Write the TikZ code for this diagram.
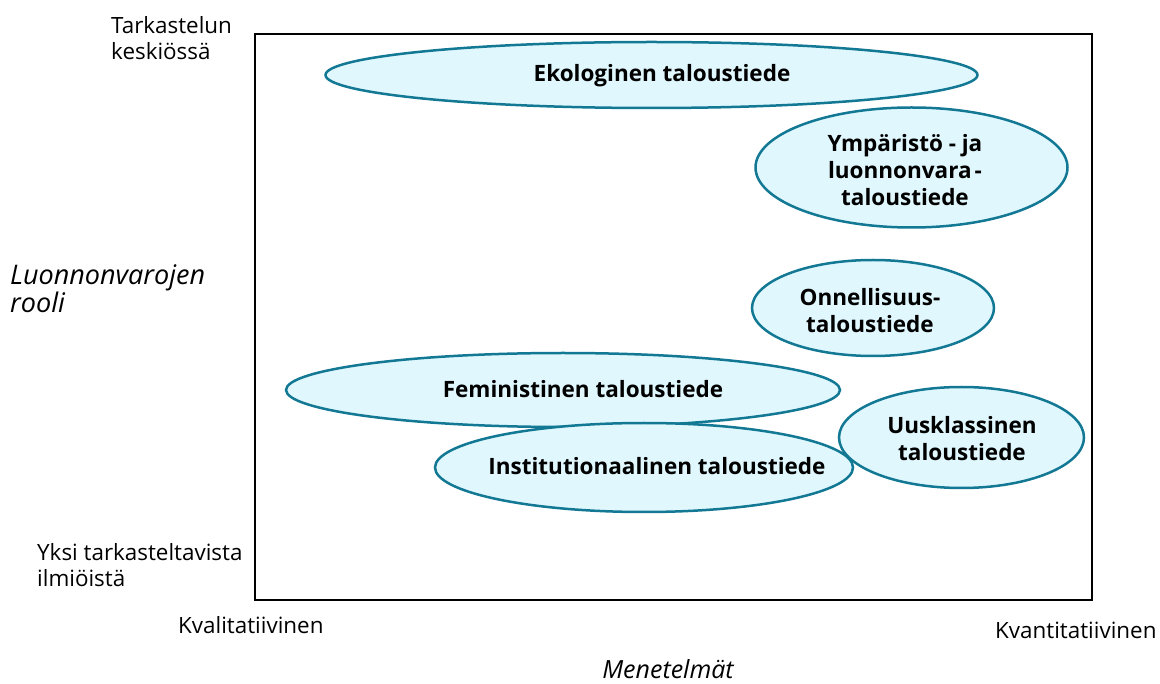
\documentclass[tikz,border=0pt]{standalone}
\usepackage{fontspec}
\setmainfont{Open Sans}
\usetikzlibrary{shapes.geometric}
\definecolor{ellborder}{RGB}{18,120,148}
\definecolor{ellfill}{RGB}{223,247,253}
\tikzset{
  ell/.style={ellipse, draw=ellborder, fill=ellfill, line width=2.5pt, inner sep=0pt},
  lbl/.style={font=\fontsize{22.5}{27}\selectfont\bfseries, align=center, inner sep=0pt},
  axtxt/.style={font=\fontsize{22.4}{26}\selectfont, align=left, inner sep=0pt},
  axit/.style={font=\fontsize{27}{28}\selectfont\itshape, align=left, inner sep=0pt},
}
\begin{document}
\begin{tikzpicture}[x=1pt,y=-1pt]
\useasboundingbox (0,0) rectangle (1160,684);
\draw[line width=2pt] (255,34) rectangle (1092,600);
% ellipses
\node[ell, minimum width=652pt, minimum height=66pt] (eko) at (651.5,75) {};
\node[ell, minimum width=312pt, minimum height=120pt] (ymp) at (911.5,167.5) {};
\node[ell, minimum width=242pt, minimum height=96pt] (onn) at (873,308) {};
\node[ell, minimum width=554pt, minimum height=74pt] (fem) at (563,390) {};
\node[ell, minimum width=418pt, minimum height=89pt] (ins) at (644,467.5) {};
\node[ell, minimum width=245pt, minimum height=101pt] (uus) at (961.5,437.5) {};
% ellipse texts
\node[lbl] (tEko) at (662,76) {Ekologinen taloustiede};
\node[lbl] (tYmp) at (905,170) {Ympäristö - ja\\luonnonvara\hspace{3pt}-\\taloustiede};
\node[lbl] (tOnn) at (870,311) {Onnellisuus-\\taloustiede};
\node[lbl] (tFem) at (583,389) {Feministinen taloustiede};
\node[lbl] (tIns) at (657,466) {Institutionaalinen taloustiede};
\node[lbl] (tUus) at (962,439) {Uusklassinen\\taloustiede};
% axis texts (base anchor = baseline of the last line)
\node[axtxt, anchor=base west] (top) at (111,60) {Tarkastelun\\keskiössä};
\node[axit, anchor=base west] (yax) at (10,313) {Luonnonvarojen\\rooli};
\node[axtxt, anchor=base west] (bot) at (37,586) {Yksi tarkasteltavista\\ilmiöistä};
\node[axtxt, anchor=base west] (kval) at (178,633) {Kvalitatiivinen};
\node[axtxt, anchor=base west] (kvan) at (995,638) {Kvantitatiivinen};
\node[axit, font=\fontsize{25}{28}\selectfont\itshape, anchor=base] (xax) at (668,678) {Menetelmät};
\end{tikzpicture}
\end{document}
